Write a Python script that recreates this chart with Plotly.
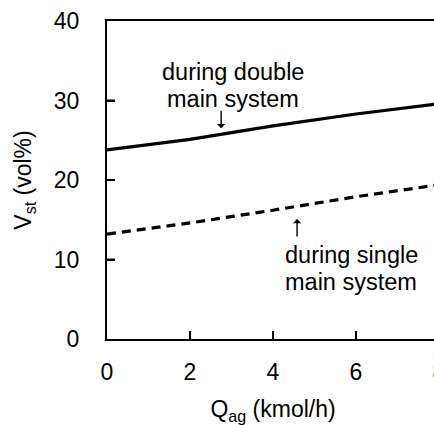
import plotly.graph_objects as go

q_ag = [0, 2, 4, 6, 8]
v_double = [23.8, 25.1, 26.8, 28.3, 29.6]
v_single = [13.2, 14.6, 16.2, 17.9, 19.4]
x_ticks = [0, 2, 4, 6, 8]
y_ticks = [0, 10, 20, 30, 40]

FONT = "Liberation Sans, Arial, Helvetica, sans-serif"

fig = go.Figure()
fig.add_trace(go.Scatter(x=q_ag, y=v_double, mode="lines",
                         line=dict(color="black", width=3.2), showlegend=False))
fig.add_trace(go.Scatter(x=q_ag, y=v_single, mode="lines",
                         line=dict(color="black", width=3.2, dash="9px,6px"), showlegend=False))

ann_font = dict(family=FONT, size=23.5, color="black")
texts = [
    ("during double", 3.03, 33.6),
    ("main system", 3.03, 30.2),
    ("during single", 5.89, 10.6),
    ("main system", 5.89, 7.2),
]
for t, x, y in texts:
    fig.add_annotation(x=x, y=y, text=t, showarrow=False, font=ann_font,
                       xanchor="center", yanchor="middle")

fig.add_annotation(x=2.75, y=26.5, ax=0, ay=-19, text="", showarrow=True,
                   arrowhead=1, arrowsize=1, arrowwidth=1.4, arrowcolor="black")
fig.add_annotation(x=4.58, y=15.1, ax=0, ay=19, text="", showarrow=True,
                   arrowhead=1, arrowsize=1, arrowwidth=1.4, arrowcolor="black")

# inside tick marks, placed at the tick values through the axes
for xt in x_ticks[1:-1]:
    fig.add_shape(type="line", xref="x", yref="y", x0=xt, x1=xt,
                  ysizemode="pixel", yanchor=0, y0=0, y1=8,
                  line=dict(color="black", width=2))
for yt in y_ticks[1:-1]:
    fig.add_shape(type="line", xref="x", yref="y", y0=yt, y1=yt,
                  xsizemode="pixel", xanchor=0, x0=0, x1=8,
                  line=dict(color="black", width=2))

tick_font = dict(family=FONT, size=23, color="black")
fig.update_xaxes(range=[0, 8], tickvals=x_ticks, ticks="inside", ticklen=8, tickwidth=2,
                 tickcolor="#000000", showline=True, linecolor="black", linewidth=2, mirror=True,
                 showgrid=False, zeroline=False, ticklabelstandoff=11, automargin=False,
                 tickfont=tick_font,
                 title=dict(text="Q<sub>ag</sub> (kmol/h)", standoff=24,
                            font=dict(family=FONT, size=23, color="black")))
fig.update_yaxes(range=[0, 40], tickvals=y_ticks, ticks="inside", ticklen=8, tickwidth=2,
                 tickcolor="#000000", showline=True, linecolor="black", linewidth=2, mirror=True,
                 showgrid=False, zeroline=False, ticklabelstandoff=21, automargin=False,
                 tickfont=tick_font,
                 title=dict(text="V<sub>st</sub> (vol%)", standoff=16,
                            font=dict(family=FONT, size=23, color="black")))

fig.update_layout(width=460, height=425, margin=dict(l=107, r=21, t=21, b=86),
                  paper_bgcolor="white", plot_bgcolor="white")

fig.write_html("out.html", config={"displayModeBar": False},
               post_script="document.body.style.margin='0';document.body.style.overflow='hidden';document.documentElement.style.overflow='hidden';")
